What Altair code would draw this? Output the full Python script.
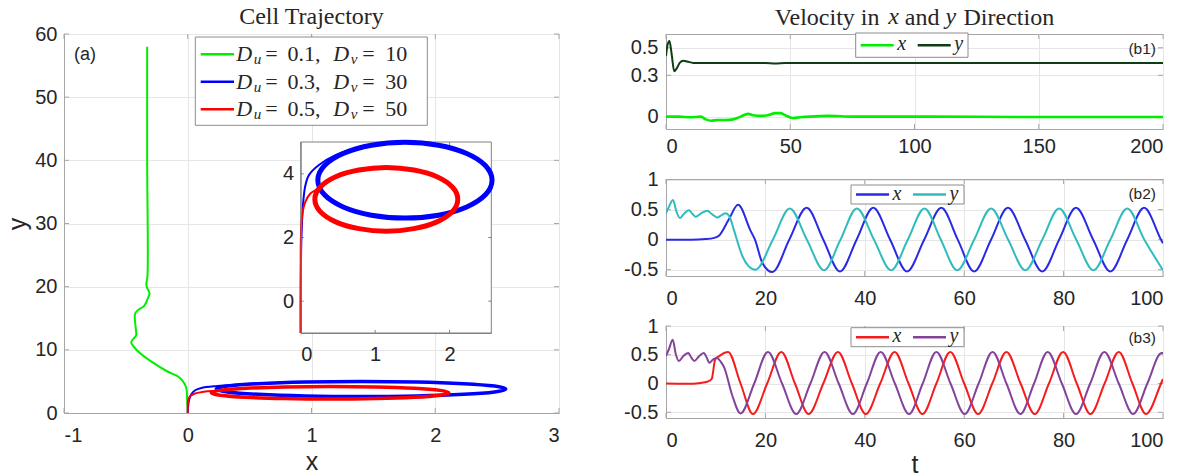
import altair as alt
import pandas as pd

# ---------------- Panel (a): cell trajectories ----------------
GREEN_X = [0.0, 0.0, -0.005, -0.01, -0.025, -0.07, -0.164, -0.287, -0.38, -0.44, -0.457, -0.417,
           -0.417, -0.426, -0.405, -0.35, -0.318, -0.309, -0.334, -0.325, -0.328, -0.328]
GREEN_Y = [-1.0, 0.0, 2.0, 3.8, 4.6, 5.67, 6.57, 8.05, 9.37, 10.6, 11.2, 12.3,
           12.8, 15.7, 16.25, 17.0, 18.4, 18.9, 20.2, 21.8, 40.0, 58.0]

BLUE_APP_X = [0.0, 0.0, 0.003, 0.01, 0.03, 0.06, 0.11, 0.24, 0.46, 0.82, 1.15, 1.40]
BLUE_APP_Y = [-1.0, 0.0, 1.0, 2.0, 3.0, 3.6, 3.96, 4.27, 4.58, 4.84, 4.95, 4.99]
BLUE_LOOP_X = [1.40, 1.85, 2.23, 2.48, 2.57, 2.48, 2.23, 1.85, 1.40, 0.95, 0.57, 0.32, 0.23, 0.32, 0.57, 0.95]
BLUE_LOOP_Y = [4.99, 4.90, 4.64, 4.26, 3.80, 3.34, 2.96, 2.70, 2.61, 2.70, 2.96, 3.34, 3.80, 4.26, 4.64, 4.90]

RED_APP_X = [0.0, 0.0, 0.0, 0.003, 0.02, 0.06, 0.13, 0.24, 0.36]
RED_APP_Y = [-1.0, 0.0, 1.0, 2.0, 2.7, 3.1, 3.38, 3.54, 3.72]
RED_LOOP_X = [1.15, 1.52, 1.83, 2.04, 2.11, 2.04, 1.83, 1.52, 1.15, 0.78, 0.47, 0.26, 0.19, 0.26, 0.47, 0.78]
RED_LOOP_Y = [4.20, 4.12, 3.91, 3.58, 3.20, 2.82, 2.49, 2.28, 2.20, 2.28, 2.49, 2.82, 3.20, 3.58, 3.91, 4.12]

A_XTICKS = [-1, 0, 1, 2, 3]
A_YTICKS = [0, 10, 20, 30, 40, 50, 60]
A_XLIM = [-1, 3]
A_YLIM = [0, 60]
INSET_XLIM = [0, 2.56]
INSET_YLIM = [-1, 5]
INSET_XTICKS = [0, 1, 2]
INSET_YTICKS = [0, 2, 4]
LEGEND_DU = ["0.1", "0.3", "0.5"]
LEGEND_DV = ["10", "30", "50"]

# ---------------- Panel (b1) ----------------
B1_TX = [0, 5, 10, 14, 16, 18, 21, 24, 27, 30, 33, 35, 38, 41, 44, 46, 48, 51, 54, 58, 65, 75, 100, 150, 200]
B1_VX = [0.0, 0.0, -0.005, 0.0, -0.02, -0.03, -0.025, -0.025, -0.02, 0.0, 0.02, 0.01, 0.005, 0.01,
         0.025, 0.025, 0.01, -0.01, -0.005, 0.0, 0.005, 0.0, 0.0, -0.003, -0.003]
B1_TY = [0, 0.6, 1.4, 2.3, 3.3, 4.3, 5.5, 7, 8.5, 11, 20, 30, 40, 44, 48, 60, 100, 150, 200]
B1_VY = [0.44, 0.52, 0.55, 0.45, 0.33, 0.35, 0.39, 0.405, 0.40, 0.39, 0.39, 0.39, 0.39, 0.385, 0.39,
         0.39, 0.39, 0.39, 0.39]

# ---------------- Panel (b2) ----------------
B2_TX = [0, 5, 8, 9.7, 10.7, 12.6, 14.5, 17.0, 17.9, 19.4, 21.4, 24.8, 28.3, 31.65, 35.0, 38.35, 41.7,
         45.1, 48.5, 51.95, 55.4, 58.7, 62.0, 65.4, 68.8, 72.25, 75.7, 79.1, 82.5, 85.95, 89.4, 92.8,
         96.2, 99.6, 100]
B2_VX = [0.0, 0.0, 0.01, 0.03, 0.07, 0.33, 0.58, 0.15, 0.0, -0.39, -0.54, 0.0, 0.53, 0.0, -0.53, 0.0, 0.53,
         0.0, -0.53, 0.0, 0.53, 0.0, -0.53, 0.0, 0.53, 0.0, -0.53, 0.0, 0.53, 0.0, -0.53, 0.0,
         0.53, 0.0, -0.06]
B2_TY = [0, 0.6, 1.4, 2.1, 2.8, 3.7, 4.6, 5.3, 6.0, 7.1, 8.3, 9.3, 10.3, 11.2, 12.0, 12.8, 13.7, 15.4,
         16.6, 18.0, 21.5, 24.9, 28.35, 31.8, 35.1, 38.4, 41.85, 45.3, 48.65, 52.0, 55.3, 58.6, 62.0,
         65.4, 68.85, 72.3, 75.7, 79.1, 82.55, 86.0, 89.4, 92.8, 96.25, 100]
B2_VY = [0.44, 0.55, 0.66, 0.47, 0.36, 0.44, 0.49, 0.43, 0.38, 0.44, 0.48, 0.42, 0.37, 0.41, 0.44, 0.38,
         0.15, -0.28, -0.44, -0.5, 0.0, 0.52, 0.0, -0.51, 0.0, 0.52, 0.0, -0.51, 0.0, 0.52, 0.0, -0.51,
         0.0, 0.52, 0.0, -0.51, 0.0, 0.52, 0.0, -0.51, 0.0, 0.52, 0.0, -0.51]

# ---------------- Panel (b3) ----------------
B3_TX = [0, 4, 7, 8.3, 9.2, 9.9, 10.8, 11.7, 12.5, 15.0, 17.5, 20.35, 23.2, 25.95, 28.7, 31.65, 34.6,
         37.4, 40.2, 43.1, 46.0, 48.8, 51.6, 54.4, 57.2, 60.0, 62.8, 65.65, 68.5, 71.35, 74.2, 77.05,
         79.9, 82.65, 85.4, 88.25, 91.1, 93.85, 96.6, 99.6, 100]
B3_VX = [0.0, -0.005, 0.01, 0.03, 0.08, 0.42, 0.48, 0.53, 0.55, 0.0, -0.53, 0.0, 0.55, 0.0, -0.53, 0.0,
         0.55, 0.0, -0.53, 0.0, 0.55, 0.0, -0.53, 0.0, 0.55, 0.0, -0.53, 0.0, 0.55, 0.0, -0.53, 0.0,
         0.55, 0.0, -0.53, 0.0, 0.55, 0.0, -0.53, 0.0, 0.08]
B3_TY = [0, 0.6, 1.35, 2.0, 2.6, 3.5, 4.5, 5.1, 5.7, 6.6, 7.6, 8.2, 8.7, 9.5, 10.2, 11.0, 11.7, 13.3,
         15.0, 17.75, 20.5, 23.35, 26.2, 29.05, 31.9, 34.75, 37.6, 40.4, 43.2, 46.05, 48.9, 51.65,
         54.4, 57.25, 60.1, 62.9, 65.7, 68.5, 71.3, 74.05, 76.8, 79.65, 82.5, 85.35, 88.2, 91.1, 94.0,
         96.85, 99.7, 100]
B3_VY = [0.48, 0.6, 0.76, 0.5, 0.39, 0.48, 0.53, 0.45, 0.39, 0.47, 0.53, 0.45, 0.36, 0.42, 0.45, 0.38,
         0.28, -0.2, -0.52, 0.0, 0.55, 0.0, -0.53, 0.0, 0.55, 0.0, -0.53, 0.0, 0.55, 0.0, -0.53, 0.0,
         0.55, 0.0, -0.53, 0.0, 0.55, 0.0, -0.53, 0.0, 0.55, 0.0, -0.53, 0.0, 0.55, 0.0, -0.53,
         0.0, 0.53, 0.53]

B1_XTICKS = [0, 50, 100, 150, 200]
B1_YTICKS = [0, 0.3, 0.5]
B1_XLIM = [0, 200]
B1_YLIM = [-0.09, 0.6]
B23_XTICKS = [0, 20, 40, 60, 80, 100]
B23_XLIM = [0, 100]
B23_YTICKS = [-0.5, 0, 0.5, 1]
B2_YLIM = [-0.605, 1.01]
B3_YLIM = [-0.6, 1.0]

TITLE_A = "Cell Trajectory"
TITLE_B = [("Velocity in ", False), ("x", True), (" and ", False), ("y", True), (" Direction", False)]

# ---------------- style ----------------
FONT = "Liberation Sans"
SERIF = "Liberation Serif"
TXT = "#262626"
GRID = "#e6e6e6"
FRAME = "#a6a6a6"
C_GREEN = "#00ee00"
C_BLUE = "#0000ff"
C_RED = "#ff0000"
C_DKGREEN = "#0d3d12"
C_B2X = "#2a2ae6"
C_B2Y = "#30bcbc"
C_B3X = "#f41c1c"
C_B3Y = "#834399"
LBL = "datum.value + ''"
TICK_FS = 20
AXTITLE_FS = 25
TITLE_FS = 24

# approximate Times (Liberation Serif) advance widths, per 1000 em
TIMES_W = {"V": 722, "e": 444, "l": 278, "o": 500, "c": 444, "i": 278, "t": 278, "y": 500, " ": 250,
           "n": 500, "a": 444, "d": 500, "D": 722, "r": 333, "x": 444}

ONE = pd.DataFrame({"k": [0]})


def path_df(xs, ys):
    return pd.DataFrame({"x": xs, "y": ys, "i": list(range(len(xs)))})


def ts_df(ts, vs):
    return pd.DataFrame({"t": ts, "v": vs})


def txt(s, x, y, size, italic=False, serif=True, align="center", color=TXT):
    return alt.Chart(ONE).mark_text(
        text=s, font=SERIF if serif else FONT, fontSize=size,
        fontStyle="italic" if italic else "normal", align=align, baseline="middle", color=color
    ).encode(x=alt.value(x), y=alt.value(y))


def rule(x1, x2, y, color, w=2.0):
    return alt.Chart(ONE).mark_rule(color=color, strokeWidth=w).encode(
        x=alt.value(x1), x2=alt.value(x2), y=alt.value(y))


def box(x1, x2, y1, y2, stroke="#8c8c8c"):
    return alt.Chart(ONE).mark_rect(fill="white", stroke=stroke, strokeWidth=1).encode(
        x=alt.value(x1), x2=alt.value(x2), y=alt.value(y1), y2=alt.value(y2))


def rich_title(pieces, cx, y, size):
    widths = [sum(TIMES_W.get(ch, 500) for ch in s) * size / 1000.0 for s, _ in pieces]
    x = cx - sum(widths) / 2.0
    out = []
    for (s, it), w in zip(pieces, widths):
        st = s.strip()
        lead = (len(s) - len(s.lstrip())) * TIMES_W[" "] * size / 1000.0
        out.append(txt(st, x + lead, y - (1 if it else 0), size, italic=it, align="left"))
        x += w
    return out


def frame_ticks(X, Y, xf, yf, xt, yt, x0, x1, y0, y1, L, color):
    """Inward MATLAB-style tick marks on all four sides (x0..x1, y0(top)..y1(bottom) in px)."""
    dx = pd.DataFrame({xf: xt})
    dy = pd.DataFrame({yf: yt})
    m = dict(color=color, strokeWidth=1)
    return [
        alt.Chart(dx).mark_rule(**m).encode(x=X, y=alt.value(y1), y2=alt.value(y1 - L)),
        alt.Chart(dx).mark_rule(**m).encode(x=X, y=alt.value(y0), y2=alt.value(y0 + L)),
        alt.Chart(dy).mark_rule(**m).encode(y=Y, x=alt.value(x0), x2=alt.value(x0 + L)),
        alt.Chart(dy).mark_rule(**m).encode(y=Y, x=alt.value(x1), x2=alt.value(x1 - L)),
    ]


# ================= Panel (a) =================
LW, LH = 495, 379
XA = alt.X("x:Q", scale=alt.Scale(domain=A_XLIM, nice=False, zero=False),
           axis=alt.Axis(values=A_XTICKS, title="x", grid=True, labelExpr=LBL, labelPadding=12,
                         titleFontSize=AXTITLE_FS, titlePadding=4))
YA = alt.Y("y:Q", scale=alt.Scale(domain=A_YLIM, nice=False, zero=False),
           axis=alt.Axis(values=A_YTICKS, title="y", grid=True, labelExpr=LBL, labelPadding=7,
                         titleFontSize=AXTITLE_FS, titlePadding=4))


def traj(xs, ys, color, w, interp, X, Y):
    return alt.Chart(path_df(xs, ys)).mark_line(
        color=color, strokeWidth=w, interpolate=interp, clip=True
    ).encode(x=X, y=Y, order="i:Q")


main_layer = alt.layer(
    *frame_ticks(XA, YA, "x", "y", A_XTICKS, A_YTICKS, 0, LW, 0, LH, 5, FRAME),
    traj(GREEN_X, GREEN_Y, C_GREEN, 2, "catmull-rom", XA, YA),
    traj(BLUE_APP_X, BLUE_APP_Y, C_BLUE, 2, "catmull-rom", XA, YA),
    traj(BLUE_LOOP_X, BLUE_LOOP_Y, C_BLUE, 3.5, "cardinal-closed", XA, YA),
    traj(RED_APP_X, RED_APP_Y, C_RED, 2, "catmull-rom", XA, YA),
    traj(RED_LOOP_X, RED_LOOP_Y, C_RED, 3.5, "cardinal-closed", XA, YA),
)

# inset placement (pixels inside panel a's plot area)
IX0, IX1, IY0, IY1 = 236.7, 427.3, 108.0, 299.0
XI = alt.X("x:Q", scale=alt.Scale(domain=INSET_XLIM, range=[IX0, IX1], nice=False, zero=False),
           axis=alt.Axis(orient="bottom", offset=-(LH - IY1), values=INSET_XTICKS, grid=False, title=None,
                         labelExpr=LBL, labelPadding=11, domainColor="#808080", zindex=1))
YI = alt.Y("y:Q", scale=alt.Scale(domain=INSET_YLIM, range=[IY1, IY0], nice=False, zero=False),
           axis=alt.Axis(orient="left", offset=-IX0, values=INSET_YTICKS, grid=False, title=None,
                         labelExpr=LBL, labelPadding=7, domainColor="#808080", zindex=1))
inset_frame = alt.Chart(pd.DataFrame({"x": [INSET_XLIM[0]], "x2": [INSET_XLIM[1]],
                                      "y": [INSET_YLIM[0]], "y2": [INSET_YLIM[1]]})).mark_rect(
    fill="white", stroke="#808080", strokeWidth=1).encode(x=XI, x2="x2:Q", y=YI, y2="y2:Q")
inset_layer = alt.layer(
    inset_frame,
    *frame_ticks(XI, YI, "x", "y", INSET_XTICKS, INSET_YTICKS, IX0, IX1, IY0, IY1, 3, "#808080"),
    traj(BLUE_APP_X, BLUE_APP_Y, C_BLUE, 2, "catmull-rom", XI, YI),
    traj(BLUE_LOOP_X, BLUE_LOOP_Y, C_BLUE, 5, "cardinal-closed", XI, YI),
    traj(RED_APP_X, RED_APP_Y, C_RED, 2, "catmull-rom", XI, YI),
    traj(RED_LOOP_X, RED_LOOP_Y, C_RED, 5, "cardinal-closed", XI, YI),
)

# legend of panel (a)
leg = [box(131.3, 363.3, 3, 91.3)]
leg_colors = [C_GREEN, C_BLUE, C_RED]
for r in range(3):
    ry = 20.3 + 27.5 * r
    leg.append(rule(136.7, 170, ry, leg_colors[r], 2.5))
    leg.append(txt("D", 180.3, ry, 22, italic=True))
    leg.append(txt("u", 193.5, ry + 5, 15, italic=True))
    leg.append(txt("=", 207.5, ry, 22))
    leg.append(txt(LEGEND_DU[r] + ",", 240, ry, 22))
    leg.append(txt("D", 277.3, ry, 22, italic=True))
    leg.append(txt("v", 290, ry + 5, 15, italic=True))
    leg.append(txt("=", 304.5, ry, 22))
    leg.append(txt(LEGEND_DV[r], 332.3, ry, 22))

deco_a = [txt(TITLE_A, LW / 2, -17, TITLE_FS), txt("(a)", 21, 21, 18, serif=False)]

panel_a = alt.layer(main_layer, inset_layer, *leg, *deco_a).resolve_scale(
    x="independent", y="independent").properties(width=LW, height=LH)


# ================= Panels (b) =================
RW = 497


def vel_panel(tx, vx, ty, vy, cx, cy, h, xlim, xticks, ylim, yticks, tag, tag_y,
              bx1, bx2, by1, by2, xtitle=None, extra=None, wx=2.0, lpad=12):
    X = alt.X("t:Q", scale=alt.Scale(domain=xlim, nice=False, zero=False),
              axis=alt.Axis(values=xticks, title=xtitle, grid=True, labelExpr=LBL, labelPadding=lpad,
                            titleFontSize=AXTITLE_FS, titlePadding=2))
    Y = alt.Y("v:Q", scale=alt.Scale(domain=ylim, nice=False, zero=False),
              axis=alt.Axis(values=yticks, title=None, grid=True, labelExpr=LBL, labelPadding=8))
    lx = alt.Chart(ts_df(tx, vx)).mark_line(color=cx, strokeWidth=wx, interpolate="monotone",
                                            clip=True).encode(x=X, y=Y)
    ly = alt.Chart(ts_df(ty, vy)).mark_line(color=cy, strokeWidth=2, interpolate="monotone",
                                            clip=True).encode(x=X, y=Y)
    ym = (by1 + by2) / 2
    parts = frame_ticks(X, Y, "t", "v", xticks, yticks, 0, RW, 0, h, 5, FRAME)
    parts += [lx, ly, box(bx1, bx2, by1, by2),
              rule(bx1 + 5, bx1 + 38, ym, cx, 2.5), txt("x", bx1 + 46, ym - 1, 20, italic=True),
              rule(bx1 + 62, bx1 + 95, ym, cy, 2.5), txt("y", bx1 + 103, ym - 1, 20, italic=True),
              txt(tag, 490, tag_y, 15.5, serif=False, align="right")]
    if extra:
        parts += extra
    return alt.layer(*parts).properties(width=RW, height=h)


title_b = rich_title(TITLE_B, RW / 2, -16, TITLE_FS)

b1 = vel_panel(B1_TX, B1_VX, B1_TY, B1_VY, C_GREEN, C_DKGREEN, 95, B1_XLIM, B1_XTICKS, B1_YLIM,
               B1_YTICKS, "(b1)", 14.7, 189.7, 302, -1, 23.3, extra=title_b, wx=2.6, lpad=7)
b2 = vel_panel(B2_TX, B2_VX, B2_TY, B2_VY, C_B2X, C_B2Y, 97, B23_XLIM, B23_XTICKS, B2_YLIM,
               B23_YTICKS, "(b2)", 15, 185, 298, 6, 25)
b3 = vel_panel(B3_TX, B3_VX, B3_TY, B3_VY, C_B3X, C_B3Y, 92, B23_XLIM, B23_XTICKS, B3_YLIM,
               B23_YTICKS, "(b3)", 11.7, 185, 298, 1.7, 20.7, xtitle="t")

right = alt.vconcat(b1, b2, b3, spacing=50, bounds="flush")

chart = alt.hconcat(panel_a, right, spacing=63).properties(
    padding={"left": 5, "top": 4, "right": 0, "bottom": 0}
).configure_axis(
    labelFont=FONT, labelFontSize=TICK_FS, labelColor=TXT, titleFont=FONT, titleFontWeight="normal",
    titleColor=TXT, domainColor=FRAME, gridColor=GRID, gridWidth=1, ticks=False
).configure_view(stroke=FRAME, strokeWidth=1)

chart.save("out.html", embed_options={"renderer": "svg", "actions": False})
